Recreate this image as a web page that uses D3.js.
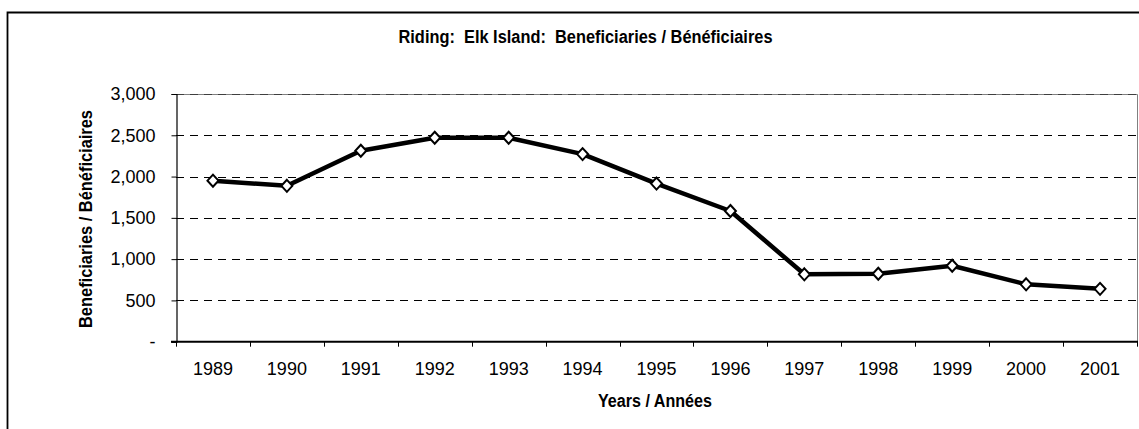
<!DOCTYPE html>
<html>
<head>
<meta charset="utf-8">
<script src="https://cdn.jsdelivr.net/npm/d3@7"></script>
<style>
  html, body { margin: 0; padding: 0; background: #fff; }
  svg { display: block; }
  .narrow { font-family: "Liberation Sans Narrow", "Arial Narrow", "Liberation Sans", Arial, sans-serif; font-weight: bold; font-stretch: condensed; white-space: pre; }
  .reg { font-family: "Liberation Sans", Arial, sans-serif; }
</style>
</head>
<body>
<svg id="chart" width="1139" height="429"></svg>
<script>
const years = ["1989","1990","1991","1992","1993","1994","1995","1996","1997","1998","1999","2000","2001"];
const beneficiaries = [1950, 1888, 2313, 2470, 2470, 2272, 1915, 1583, 816, 823, 920, 695, 640];
const yTicks = [0, 500, 1000, 1500, 2000, 2500, 3000];
const titleText = "Riding:  Elk Island:  Beneficiaries / Bénéficiaires";
const xTitle = "Years / Années";
const yTitle = "Beneficiaries / Bénéficiaires";

const svg = d3.select("#chart");
const W = 1139, H = 429;
const m = { left: 176, right: 1137, top: 94, bottom: 341.7 };

// outer frame (extends beyond right/bottom edge)
svg.append("path")
  .attr("d", `M7.5,${H + 5} L7.5,12.5 L${W + 5},12.5`)
  .attr("fill", "none").attr("stroke", "#000").attr("stroke-width", 1.8);

const x = d3.scaleBand().domain(years).range([m.left, m.right]);
const y = d3.scaleLinear().domain([0, 3000]).range([m.bottom, m.top]);

// gridlines
svg.append("g").selectAll("line").data(yTicks.filter(d => d > 0 && d < 3000)).join("line")
  .attr("x1", m.left).attr("x2", m.right)
  .attr("y1", d => Math.round(y(d)) + 0.5).attr("y2", d => Math.round(y(d)) + 0.5)
  .attr("stroke", "#000").attr("stroke-width", 1).attr("stroke-dasharray", "8,6");

// plot border top/right (grey)
svg.append("path")
  .attr("d", `M${m.left},${Math.round(y(3000)) + 0.5} L${m.right + 0.5},${Math.round(y(3000)) + 0.5} L${m.right + 0.5},${m.bottom}`)
  .attr("fill", "none").attr("stroke", "#808080").attr("stroke-width", 1);
svg.append("line")
  .attr("x1", m.left).attr("x2", m.right)
  .attr("y1", Math.round(y(3000)) + 0.5).attr("y2", Math.round(y(3000)) + 0.5)
  .attr("stroke", "#000").attr("stroke-width", 1).attr("stroke-dasharray", "8,6").attr("opacity", 0.5);

// y axis
const yAxis = d3.axisLeft(y).tickValues(yTicks).tickSize(5).tickPadding(16)
  .tickFormat(d => d === 0 ? "-" : d3.format(",")(d));
const gy = svg.append("g").attr("transform", `translate(${m.left + 0.5},0)`).call(yAxis);
gy.select(".domain").attr("stroke", "#000").attr("stroke-width", 1.2);
gy.selectAll(".tick line").attr("stroke", "#000");
gy.selectAll(".tick text").attr("class", "reg").attr("font-size", 18).attr("fill", "#000");

// x axis with ticks at boundaries
const boundaries = years.map(d => x(d)).concat([m.right]);
svg.append("g").selectAll("line").data(boundaries).join("line")
  .attr("x1", d => Math.round(d) + 0.5).attr("x2", d => Math.round(d) + 0.5)
  .attr("y1", m.bottom).attr("y2", m.bottom + 5)
  .attr("stroke", "#000").attr("stroke-width", 1);
svg.append("line")
  .attr("x1", m.left - 5).attr("x2", m.right + 1)
  .attr("y1", m.bottom).attr("y2", m.bottom)
  .attr("stroke", "#000").attr("stroke-width", 2);
svg.append("g").selectAll("text").data(years).join("text")
  .attr("class", "reg").attr("font-size", 18).attr("text-anchor", "middle")
  .attr("x", d => x(d) + x.bandwidth() / 2).attr("y", 375)
  .text(d => d);

// line
const line = d3.line().x((d, i) => x(years[i]) + x.bandwidth() / 2).y(d => y(d));
svg.append("path").datum(beneficiaries)
  .attr("d", line).attr("fill", "none").attr("stroke", "#000")
  .attr("stroke-width", 4.5).attr("stroke-linejoin", "round");

// diamond markers
const sx = 5.5, sy = 6;
svg.append("g").selectAll("path").data(beneficiaries).join("path")
  .attr("transform", (d, i) => `translate(${x(years[i]) + x.bandwidth() / 2},${y(d)})`)
  .attr("d", `M0,${-sy} L${sx},0 L0,${sy} L${-sx},0 Z`)
  .attr("fill", "#fff").attr("stroke", "#000").attr("stroke-width", 2);

// titles
svg.append("text").attr("class", "narrow").attr("font-size", 18)
  .attr("x", 585.5).attr("y", 43).attr("text-anchor", "middle")
  .attr("textLength", 374).attr("lengthAdjust", "spacingAndGlyphs")
  .text(titleText);
svg.append("text").attr("class", "narrow").attr("font-size", 17.5)
  .attr("x", 655).attr("y", 407).attr("text-anchor", "middle")
  .attr("textLength", 114).attr("lengthAdjust", "spacingAndGlyphs")
  .text(xTitle);
svg.append("text").attr("class", "narrow").attr("font-size", 17.5)
  .attr("transform", `translate(92,219) rotate(-90)`).attr("text-anchor", "middle")
  .attr("textLength", 218).attr("lengthAdjust", "spacingAndGlyphs")
  .text(yTitle);
</script>
</body>
</html>
